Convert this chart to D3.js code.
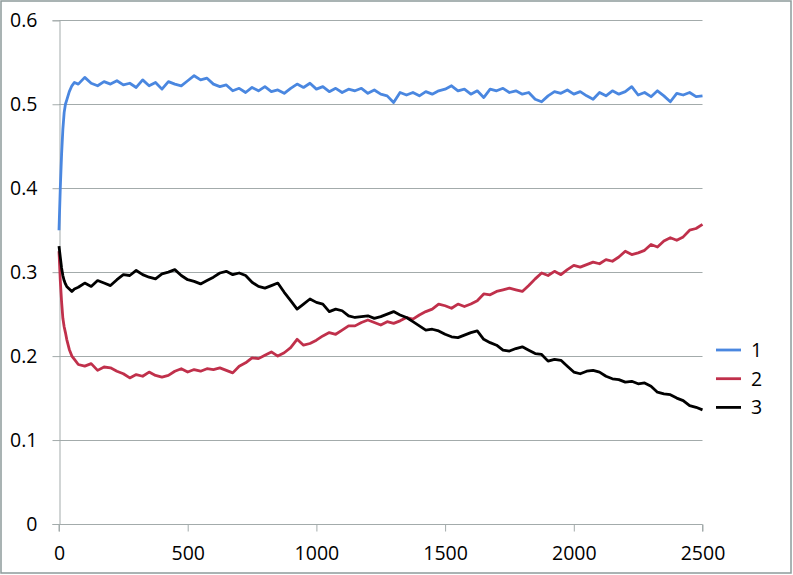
<!DOCTYPE html>
<html><head><meta charset="utf-8">
<script src="https://cdn.jsdelivr.net/npm/d3@7"></script>
<style>html,body{margin:0;padding:0;background:#fff;}svg{display:block;}</style>
</head><body>
<script>
const steps = [0,5,10,15,20,25,30,40,50,60,75,
100,125,150,175,200,225,250,275,300,325,350,375,400,425,450,475,
500,525,550,575,600,625,650,675,700,725,750,775,800,825,850,875,
900,925,950,975,1000,1025,1050,1075,1100,1125,1150,1175,1200,1225,1250,1275,
1300,1325,1350,1375,1400,1425,1450,1475,1500,1525,1550,1575,1600,1625,1650,1675,
1700,1725,1750,1775,1800,1825,1850,1875,1900,1925,1950,1975,2000,2025,2050,2075,
2100,2125,2150,2175,2200,2225,2250,2275,2300,2325,2350,2375,2400,2425,2450,2475,2500];

const series1 = [0.35,0.40,0.44,0.47,0.49,0.50,0.505,0.515,0.522,0.526,0.524,
0.532,0.525,0.522,0.527,0.524,0.528,0.523,0.525,0.520,0.529,0.522,0.526,0.518,0.527,0.524,0.522,
0.528,0.534,0.529,0.531,0.524,0.521,0.523,0.516,0.519,0.514,0.520,0.516,0.521,0.515,0.517,0.513,
0.519,0.524,0.520,0.525,0.518,0.521,0.515,0.519,0.514,0.518,0.516,0.519,0.513,0.517,0.512,0.510,
0.502,0.514,0.511,0.514,0.510,0.515,0.512,0.516,0.518,0.522,0.516,0.518,0.512,0.516,0.508,0.518,
0.516,0.519,0.514,0.516,0.512,0.514,0.506,0.503,0.510,0.515,0.513,0.517,0.512,0.515,0.510,0.506,
0.514,0.510,0.516,0.512,0.515,0.521,0.511,0.514,0.509,0.516,0.510,0.503,0.513,0.511,0.514,0.509,0.510];

const series2 = [0.325,0.29,0.265,0.245,0.235,0.228,0.22,0.208,0.200,0.196,0.190,
0.188,0.191,0.183,0.187,0.186,0.182,0.179,0.174,0.178,0.176,0.181,0.177,0.175,0.177,0.182,0.185,
0.181,0.184,0.182,0.185,0.184,0.186,0.183,0.180,0.188,0.192,0.198,0.197,0.201,0.205,0.200,0.204,
0.210,0.220,0.213,0.215,0.219,0.224,0.228,0.226,0.231,0.236,0.236,0.240,0.243,0.240,0.237,0.241,
0.239,0.242,0.246,0.244,0.249,0.253,0.256,0.262,0.260,0.257,0.262,0.259,0.262,0.266,0.274,0.273,
0.277,0.279,0.281,0.279,0.277,0.284,0.292,0.299,0.296,0.301,0.297,0.303,0.308,0.306,0.309,0.312,
0.310,0.315,0.313,0.318,0.325,0.321,0.323,0.326,0.333,0.330,0.337,0.341,0.338,0.342,0.350,0.352,0.357];

const series3 = [0.331,0.318,0.305,0.296,0.290,0.286,0.283,0.280,0.277,0.280,0.282,
0.287,0.283,0.290,0.287,0.284,0.291,0.297,0.296,0.302,0.297,0.294,0.292,0.298,0.300,0.303,0.296,
0.291,0.289,0.286,0.290,0.294,0.299,0.301,0.297,0.299,0.296,0.288,0.283,0.281,0.284,0.287,0.276,
0.266,0.256,0.262,0.268,0.264,0.262,0.253,0.256,0.254,0.248,0.246,0.247,0.248,0.245,0.247,0.250,
0.253,0.249,0.246,0.241,0.236,0.231,0.232,0.230,0.226,0.223,0.222,0.225,0.228,0.230,0.220,0.216,
0.213,0.207,0.206,0.209,0.211,0.207,0.203,0.202,0.194,0.196,0.195,0.188,0.181,0.179,0.182,0.183,
0.181,0.176,0.173,0.172,0.169,0.170,0.167,0.168,0.164,0.157,0.155,0.154,0.150,0.147,0.141,0.139,0.136];

const seriesNames = ["1","2","3"];
const seriesColors = ["#4a87e0","#c0304b","#000000"];
const xTicks = [0,500,1000,1500,2000,2500];
const yTicks = [0,0.1,0.2,0.3,0.4,0.5,0.6];

const W = 793, H = 575;
const svg = d3.select("body").append("svg").attr("width",W).attr("height",H);
svg.append("rect").attr("x",0).attr("y",0).attr("width",W).attr("height",H).attr("fill","#fff");
svg.append("rect").attr("x",1).attr("y",1).attr("width",W-3).attr("height",H-3)
  .attr("fill","none").attr("stroke","#8d9b9b").attr("stroke-width",1.5);

const x = d3.scaleLinear().domain([0,2500]).range([59,702.5]);
const y = d3.scaleLinear().domain([0,0.6]).range([524,20.3]);
const gridColor = "#a3abab";
const font = "'Open Sans', 'DejaVu Sans', sans-serif";
const fs = 19.5;

// gridlines
svg.append("g").selectAll("line").data(yTicks.filter(d=>d>0)).join("line")
  .attr("x1",x(0)).attr("x2",x(2500)).attr("y1",d=>Math.round(y(d))+0.5).attr("y2",d=>Math.round(y(d))+0.5)
  .attr("stroke",gridColor).attr("stroke-width",1);

// y axis
const yAxis = svg.append("g").attr("transform",`translate(${Math.round(x(0))+0.5},0)`)
  .call(d3.axisLeft(y).tickValues(yTicks).tickFormat(d=>d===0?"0":d3.format(".1f")(d)).tickSize(7).tickPadding(15));
yAxis.selectAll("path,line").attr("stroke",gridColor);
yAxis.selectAll("text").attr("font-family",font).attr("font-size",fs).attr("fill","#000");

// x axis
const xAxis = svg.append("g").attr("transform",`translate(0,${Math.round(y(0))+0.5})`)
  .call(d3.axisBottom(x).tickValues(xTicks).tickFormat(d3.format("d")).tickSize(7).tickPadding(15));
xAxis.selectAll("path,line").attr("stroke",gridColor);
xAxis.select(".domain").attr("d",`M${x(0)},7V0H${x(2500)}V7`);
xAxis.selectAll("text").attr("font-family",font).attr("font-size",fs).attr("fill","#000");

// lines
const allSeries = [series1,series2,series3];
const line = d3.line().x((d,i)=>x(steps[i])).y(d=>y(d));
allSeries.forEach((s,k)=>{
  svg.append("path").datum(s).attr("d",line).attr("fill","none")
    .attr("stroke",seriesColors[k]).attr("stroke-width",2.8).attr("stroke-linejoin","round");
});

// legend
const leg = svg.append("g");
seriesNames.forEach((n,k)=>{
  const ly = 350 + k*28.7;
  leg.append("line").attr("x1",716).attr("x2",741).attr("y1",ly).attr("y2",ly)
    .attr("stroke",seriesColors[k]).attr("stroke-width",2.8);
  leg.append("text").attr("x",751).attr("y",ly).attr("dy","0.35em")
    .attr("font-family",font).attr("font-size",fs).attr("fill","#000").text(n);
});
</script>
</body></html>
